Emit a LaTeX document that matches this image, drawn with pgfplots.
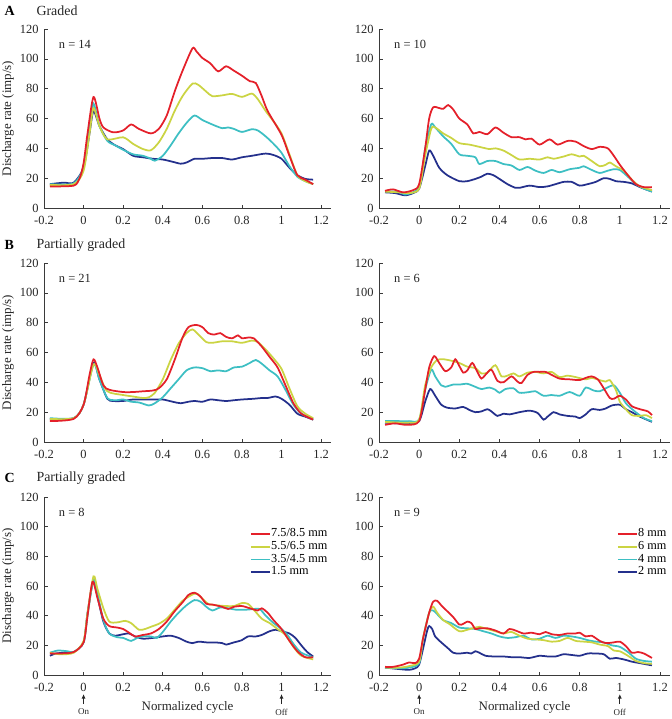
\documentclass[border=0pt]{standalone}
\usepackage{fontspec}
\setmainfont{Liberation Serif}
\usepackage{pgfplots}
\pgfplotsset{compat=1.18}
\usetikzlibrary{arrows.meta}
\definecolor{cred}{HTML}{E4202A}
\definecolor{cyel}{HTML}{CBD443}
\definecolor{ccya}{HTML}{3DBFC3}
\definecolor{cnav}{HTML}{24308C}
\definecolor{spine}{HTML}{3A3A3A}
\pgfplotsset{
  panel/.style={
    scale only axis, anchor=south west, height=179bp,
    xmin=-0.2, xmax=1.25, ymin=0, ymax=120,
    axis x line*=bottom, axis y line*=left,
    axis line style={spine, line width=0.6bp},
    every tick/.style={spine, line width=0.6bp},
    tick align=inside, major tick length=3.5bp,
    xtick={-0.2,0,0.2,0.4,0.6,0.8,1,1.2},
    xticklabels={-0.2,0,0.2,0.4,0.6,0.8,1,1.2},
    ytick={0,20,40,60,80,100,120},
    yticklabels={0,20,40,60,80,100,120},
    tick label style={font=\fontsize{12.5}{14}\selectfont, text=black!85},
    xticklabel style={yshift=-5bp},
    yticklabel style={xshift=-2bp},
    label style={font=\fontsize{13}{15}\selectfont, text=black!85},
    clip=false,
    every axis plot/.append style={line width=1.75bp, smooth, tension=0.45, no markers},
    legend style={draw=none, fill=none, font=\fontsize{12.3}{13}\selectfont,
       row sep=0bp, column sep=0bp, cells={anchor=west},
       nodes={inner sep=0.4bp, text height=8.6bp, text depth=3.3bp}},
    legend image code/.code={\draw[##1, line width=1.75bp, sharp plot] (0bp,0bp) -- (19bp,0bp);},
  },
  leftp/.style={panel, width=287bp, ylabel={Discharge rate (imp/s)},
    ylabel style={yshift=-1bp}},
  rightp/.style={panel, width=291bp},
}
\newcommand{\nlab}[1]{\node[anchor=west, font=\fontsize{12.5}{14}\selectfont, text=black!85] at (rel axis cs:0.04,0.915) {#1};}
\newcommand{\onoff}{%
  \draw[-{Latex[length=4.5bp,width=4bp]}, line width=0.9bp, black!85] ([yshift=-29bp]axis cs:0,0) -- ([yshift=-19bp]axis cs:0,0);
  \draw[-{Latex[length=4.5bp,width=4bp]}, line width=0.9bp, black!85] ([yshift=-29bp]axis cs:1,0) -- ([yshift=-19bp]axis cs:1,0);
  \node[font=\fontsize{9}{10}\selectfont, text=black!85] at ([yshift=-37bp]axis cs:0,0) {On};
  \node[font=\fontsize{9}{10}\selectfont, text=black!85] at ([yshift=-37bp]axis cs:1,0) {Off};
}
\begin{document}
\begin{tikzpicture}
\path[use as bounding box] (0,0) rectangle (672bp,-719bp);

% ---------------- A left
\begin{axis}[leftp, at={(44bp,-208bp)}]
\addplot[cnav] coordinates {(-0.17,16)(-0.1,17)(-0.05,17)(0,27)(0.03,50)(0.05,65)(0.08,55)(0.12,46)(0.16,42)(0.2,39.5)(0.25,35)(0.3,34)(0.35,33)(0.4,32.5)(0.45,31)(0.49,29.7)(0.52,30.5)(0.56,33)(0.6,33)(0.65,33.5)(0.7,33.5)(0.75,32.5)(0.8,34)(0.85,35)(0.92,36.5)(0.96,35.5)(1.0,33)(1.04,27)(1.08,22)(1.12,19.5)(1.16,19)};
\addplot[ccya] coordinates {(-0.17,16)(-0.05,16.5)(0,28)(0.03,55)(0.05,70)(0.08,55)(0.12,45)(0.16,42)(0.2,39)(0.25,36)(0.3,35)(0.34,33)(0.36,31.7)(0.4,35)(0.44,42)(0.48,50)(0.52,57)(0.56,62)(0.6,59)(0.65,56)(0.7,53.5)(0.73,54)(0.76,53)(0.8,51)(0.85,52.8)(0.88,52)(0.92,48)(0.96,43)(1.0,37)(1.04,28)(1.08,21)(1.12,18)(1.16,16)};
\addplot[cyel] coordinates {(-0.17,15.5)(-0.05,16)(0,25)(0.03,50)(0.05,67)(0.08,55)(0.12,46)(0.2,47.4)(0.25,43)(0.3,39.5)(0.34,38.7)(0.38,44)(0.42,53)(0.46,65)(0.5,75)(0.55,83.4)(0.58,82.5)(0.62,78)(0.65,75)(0.7,75.5)(0.75,76.5)(0.8,74.5)(0.85,76.7)(0.88,73)(0.92,65)(0.96,58)(1.0,50)(1.04,36)(1.08,22)(1.12,18)(1.16,16)};
\addplot[cred] coordinates {(-0.17,14.5)(-0.05,15)(-0.02,20)(0,30)(0.02,50)(0.05,74.4)(0.08,60)(0.1,54)(0.15,50.7)(0.2,52)(0.24,56)(0.28,53)(0.34,50)(0.38,53)(0.42,62)(0.46,78)(0.5,92)(0.55,107)(0.57,105)(0.6,100.6)(0.64,97)(0.68,91.6)(0.72,95)(0.76,92)(0.8,88.7)(0.84,85)(0.87,83.8)(0.9,75)(0.93,65)(1.0,49)(1.04,35)(1.08,22)(1.12,19)(1.16,16)};
\nlab{n = 14}
\end{axis}

% ---------------- A right
\begin{axis}[rightp, at={(379bp,-208bp)}]
\addplot[cnav] coordinates {(-0.17,10.5)(-0.12,10)(-0.07,8.5)(-0.03,10)(0,13)(0.03,28)(0.05,38.5)(0.07,35)(0.1,27)(0.14,22)(0.2,18)(0.24,18)(0.28,19.5)(0.31,21)(0.34,23)(0.37,22)(0.4,19.5)(0.44,16)(0.48,13.5)(0.5,13.5)(0.55,15)(0.6,14)(0.64,14.5)(0.68,16)(0.72,17.5)(0.76,17.5)(0.8,15)(0.84,16)(0.88,17.5)(0.92,20)(0.95,19.5)(0.98,18)(1.02,17.5)(1.06,16.5)(1.1,14)(1.16,11)};
\addplot[ccya] coordinates {(-0.17,11)(-0.1,11)(-0.07,9)(0,14)(0.03,40)(0.06,56)(0.08,54)(0.12,48)(0.16,43)(0.2,36)(0.24,35)(0.28,34)(0.3,29.5)(0.34,31.5)(0.38,31.5)(0.42,29.5)(0.46,28.5)(0.5,25.5)(0.54,27.5)(0.58,25)(0.62,23.5)(0.66,25.5)(0.7,24)(0.75,26)(0.8,27)(0.82,28)(0.86,25.5)(0.9,23.5)(0.94,25)(0.97,26)(1.0,25.5)(1.04,21)(1.08,16)(1.12,13)(1.16,11)};
\addplot[cyel] coordinates {(-0.17,11)(-0.1,10.5)(-0.05,10)(0,13)(0.03,35)(0.06,53)(0.08,54)(0.12,50)(0.16,47)(0.2,43.5)(0.25,42.5)(0.3,41)(0.35,39.5)(0.38,40)(0.42,38.5)(0.46,35.5)(0.5,32.5)(0.55,33)(0.6,32.5)(0.64,34)(0.67,33)(0.72,34.5)(0.76,36)(0.8,34.5)(0.82,35)(0.86,31.5)(0.9,28)(0.93,29)(0.95,30.5)(0.98,28)(1.02,25)(1.06,19)(1.1,14.5)(1.16,12)};
\addplot[cred] coordinates {(-0.17,11.5)(-0.13,12.5)(-0.08,10.5)(-0.03,12)(0,16)(0.03,40)(0.05,60)(0.07,67.5)(0.1,67)(0.12,66.5)(0.145,69)(0.17,66)(0.2,60)(0.24,56)(0.27,50)(0.3,51)(0.34,49.5)(0.38,54)(0.42,50.5)(0.46,47.5)(0.5,47.5)(0.53,46)(0.56,46.5)(0.6,42.5)(0.65,46)(0.69,42.5)(0.74,45)(0.78,44.5)(0.82,41.5)(0.86,39.5)(0.9,41)(0.94,40)(0.97,35)(1.0,29)(1.04,22)(1.08,16)(1.12,14)(1.16,14)};
\nlab{n = 10}
\end{axis}

% ---------------- B left
\begin{axis}[leftp, at={(44bp,-442bp)}]
\addplot[cnav] coordinates {(-0.17,15.5)(-0.05,16)(0,25)(0.05,53)(0.08,42)(0.12,29)(0.15,27.5)(0.2,27.5)(0.25,28.5)(0.3,28.5)(0.35,28.5)(0.4,28.5)(0.45,27)(0.49,26)(0.53,27)(0.56,27.5)(0.6,27)(0.64,28.5)(0.68,28)(0.72,27.5)(0.76,28)(0.8,28.5)(0.86,29)(0.9,29.5)(0.93,29.5)(0.97,30.5)(1.0,29)(1.04,25)(1.08,19)(1.12,17)(1.16,15)};
\addplot[ccya] coordinates {(-0.17,16)(-0.05,16)(0,25)(0.05,52)(0.08,42)(0.12,29.5)(0.16,28)(0.2,28.5)(0.24,27)(0.28,26.5)(0.33,24.5)(0.36,26)(0.4,30)(0.44,36)(0.48,42)(0.52,48)(0.56,50)(0.6,49.5)(0.64,47.5)(0.68,48)(0.72,47.5)(0.76,50)(0.8,50.5)(0.84,53)(0.87,55)(0.9,52.5)(0.94,48)(0.98,44)(1.02,35)(1.06,25)(1.1,19)(1.16,15)};
\addplot[cyel] coordinates {(-0.17,15.5)(-0.05,16)(0,25)(0.05,52)(0.08,45)(0.12,34)(0.2,31.5)(0.25,30.5)(0.3,29.5)(0.33,30)(0.36,33)(0.4,42)(0.44,55)(0.48,66)(0.52,73)(0.55,75.5)(0.58,72)(0.62,67)(0.65,66.5)(0.7,67.5)(0.75,67.5)(0.8,66.5)(0.85,68)(0.88,67)(0.92,62)(0.96,56)(1.0,49)(1.04,36)(1.08,24)(1.12,19)(1.16,16)};
\addplot[cred] coordinates {(-0.17,14)(-0.05,15.5)(0,25)(0.03,45)(0.05,55.4)(0.07,50)(0.1,38)(0.13,35)(0.2,33.5)(0.25,33.5)(0.3,34)(0.35,34.5)(0.38,36)(0.42,42)(0.46,55)(0.5,70)(0.53,77)(0.57,78.5)(0.6,77)(0.63,73)(0.66,72)(0.69,73)(0.72,70.5)(0.75,69.5)(0.78,71.5)(0.8,69.5)(0.83,70)(0.86,69.5)(0.9,64)(0.94,57)(0.98,50)(1.02,38)(1.06,26)(1.1,19)(1.16,15)};
\nlab{n = 21}
\end{axis}

% ---------------- B right
\begin{axis}[rightp, at={(379bp,-442bp)}]
\addplot[cnav] coordinates {(-0.17,13)(-0.1,12.5)(-0.05,12.5)(0,14)(0.03,27)(0.055,35.5)(0.08,31)(0.11,25)(0.14,23)(0.18,22.5)(0.22,23.5)(0.25,21.5)(0.28,20)(0.31,20.5)(0.34,22)(0.36,20.5)(0.39,17.5)(0.42,19)(0.45,18.5)(0.5,20)(0.55,21)(0.59,19.5)(0.62,15)(0.64,17)(0.67,20)(0.7,18.5)(0.74,17.5)(0.78,17)(0.8,16)(0.83,18.5)(0.86,22)(0.9,21.5)(0.93,22.5)(0.96,24.5)(1.0,25)(1.03,22)(1.06,20)(1.1,17)(1.16,13.5)};
\addplot[ccya] coordinates {(-0.17,14)(-0.1,14)(-0.05,14)(0,15)(0.03,35)(0.06,48.5)(0.08,44)(0.11,38)(0.13,37)(0.17,38.5)(0.2,38.5)(0.24,39)(0.28,37)(0.31,35.5)(0.35,36.5)(0.38,35)(0.4,33)(0.43,35.5)(0.47,36)(0.5,33)(0.55,33.5)(0.58,34)(0.62,31)(0.66,31.5)(0.7,31)(0.75,33.5)(0.8,31)(0.83,36.5)(0.87,34.5)(0.9,34)(0.93,36)(0.97,38)(1.0,33)(1.03,26)(1.07,21)(1.12,16)(1.16,14)};
\addplot[cyel] coordinates {(-0.17,13.5)(-0.1,13)(-0.05,13)(0,15)(0.03,38)(0.06,50)(0.09,55)(0.12,55.5)(0.16,54.5)(0.2,53)(0.24,50.5)(0.28,49.5)(0.31,46)(0.34,46.5)(0.38,51.5)(0.41,44)(0.44,44.5)(0.47,46)(0.5,44)(0.54,46.5)(0.58,47)(0.62,46)(0.66,47)(0.7,43.5)(0.74,44.5)(0.78,43.5)(0.83,42)(0.86,43)(0.9,41.5)(0.93,40.5)(0.95,41.5)(0.98,35)(1.0,27)(1.03,22)(1.06,18)(1.1,17.5)(1.13,18)(1.16,16)};
\addplot[cred] coordinates {(-0.17,11.5)(-0.12,12.5)(-0.06,11.5)(0,14)(0.03,35)(0.05,50)(0.075,57.6)(0.1,53)(0.13,47.5)(0.16,50)(0.18,55.5)(0.2,51)(0.22,46.5)(0.24,48)(0.265,53)(0.29,47)(0.31,42.5)(0.33,45)(0.36,48.5)(0.39,41)(0.42,40)(0.46,44)(0.49,40.5)(0.51,39.5)(0.54,45)(0.57,47)(0.6,47)(0.63,47)(0.66,45)(0.7,42.5)(0.75,42)(0.8,41.5)(0.83,43)(0.86,44)(0.89,42)(0.92,36)(0.95,29.5)(0.97,29)(1.0,31)(1.03,28.5)(1.06,24)(1.1,22)(1.14,20.5)(1.16,18)};
\nlab{n = 6}
\end{axis}

% ---------------- C left
\begin{axis}[leftp, at={(44bp,-675bp)}, height=178bp, xlabel={Normalized cycle},
  xlabel style={yshift=-3bp},
  legend style={at={(1.0,0.84)}, anchor=north east}, reverse legend]
\addplot[cnav] coordinates {(-0.17,13)(-0.14,14.5)(-0.1,15)(-0.05,15.5)(0,22)(0.02,42)(0.05,64)(0.07,53)(0.1,36)(0.13,28)(0.16,26.5)(0.2,27.5)(0.23,28)(0.26,26)(0.3,24.5)(0.35,25)(0.4,26)(0.44,26.5)(0.48,25)(0.52,22.5)(0.55,21.5)(0.58,22.5)(0.62,22)(0.66,22)(0.7,21.5)(0.72,20.5)(0.76,22)(0.8,23.5)(0.83,26)(0.87,26)(0.9,27)(0.94,29.5)(0.97,30.5)(1.0,29.5)(1.04,28)(1.07,25)(1.1,20)(1.13,15.5)(1.16,12.5)};
\addlegendentry{1.5 mm}
\addplot[ccya] coordinates {(-0.17,15)(-0.13,16.5)(-0.08,16)(-0.05,15.5)(0,22)(0.02,40)(0.05,65)(0.07,55)(0.1,37)(0.13,28)(0.17,25.5)(0.2,25)(0.24,23)(0.27,25)(0.3,26)(0.34,26)(0.37,25)(0.4,29)(0.44,36)(0.48,42)(0.52,47)(0.56,50.5)(0.59,49.5)(0.62,46)(0.65,43.5)(0.69,45.5)(0.73,45)(0.77,44)(0.82,44)(0.86,44.5)(0.89,44.5)(0.92,40)(0.96,35)(1.0,31)(1.03,27)(1.06,21)(1.1,15)(1.16,12)};
\addlegendentry{3.5/4.5 mm}
\addplot[cyel] coordinates {(-0.17,15)(-0.12,14)(-0.05,15)(0,23)(0.02,42)(0.05,66.5)(0.07,58)(0.1,45)(0.13,36)(0.17,35.5)(0.21,36.5)(0.24,35)(0.28,30.5)(0.31,31)(0.35,33)(0.38,34.5)(0.42,38)(0.46,44)(0.5,50)(0.54,53.5)(0.57,55)(0.6,51.5)(0.63,48)(0.67,47)(0.72,46.5)(0.76,46.5)(0.8,48.5)(0.83,48)(0.86,44)(0.9,38)(0.94,35)(0.98,31)(1.02,27)(1.06,19)(1.1,13)(1.16,10.5)};
\addlegendentry{5.5/6.5 mm}
\addplot[cred] coordinates {(-0.17,14.5)(-0.12,14.5)(-0.05,15.5)(0,22)(0.02,40)(0.045,62.8)(0.07,52)(0.1,38)(0.13,33)(0.17,32)(0.2,31)(0.23,28.5)(0.26,26)(0.3,27)(0.34,28)(0.38,31)(0.42,36)(0.46,43)(0.5,49)(0.53,54)(0.56,55.5)(0.59,53)(0.62,48)(0.65,47.5)(0.7,46)(0.73,44.5)(0.76,46)(0.8,46.5)(0.84,45)(0.88,43.5)(0.9,45)(0.93,42)(0.96,37)(1.0,31)(1.04,23)(1.08,16)(1.12,12)(1.16,12)};
\addlegendentry{7.5/8.5 mm}
\nlab{n = 8}
\onoff
\end{axis}

% ---------------- C right
\begin{axis}[rightp, at={(379bp,-675bp)}, height=178bp, xlabel={Normalized cycle},
  xlabel style={yshift=-3bp},
  legend style={at={(1.0,0.84)}, anchor=north east}, reverse legend]
\addplot[cnav] coordinates {(-0.17,5)(-0.1,4)(-0.05,3.5)(-0.02,4.5)(0,7)(0.02,18)(0.04,30)(0.05,33)(0.065,31)(0.08,26)(0.11,22)(0.14,18.5)(0.17,15)(0.2,14.5)(0.24,15)(0.26,14.5)(0.28,16)(0.3,15)(0.33,13)(0.37,12.5)(0.42,12.5)(0.46,12)(0.5,12)(0.55,11.5)(0.6,13)(0.64,12.5)(0.68,12.5)(0.72,14)(0.76,13.5)(0.8,13)(0.84,14.5)(0.88,14.5)(0.92,14)(0.95,11)(0.98,11.5)(1.02,10.5)(1.06,9)(1.1,8)(1.16,6.5)};
\addlegendentry{2 mm}
\addplot[ccya] coordinates {(-0.17,5)(-0.1,4.5)(-0.05,5)(0,8)(0.02,25)(0.05,42)(0.07,43.5)(0.09,41)(0.12,37)(0.16,35)(0.2,32)(0.24,31.5)(0.28,31)(0.32,29.5)(0.36,28)(0.4,26)(0.44,25)(0.48,25.5)(0.52,26.5)(0.56,24)(0.6,24.5)(0.64,26.5)(0.68,25)(0.72,26.5)(0.76,26)(0.8,25)(0.84,23.5)(0.88,22.5)(0.92,22)(0.96,20)(1.0,19)(1.04,15.5)(1.08,11)(1.12,9.5)(1.16,9)};
\addlegendentry{4 mm}
\addplot[cyel] coordinates {(-0.17,5)(-0.1,5)(-0.05,6)(0,9)(0.02,25)(0.05,42)(0.07,46)(0.09,42)(0.12,37)(0.15,34.5)(0.2,29.5)(0.24,30.5)(0.28,32)(0.3,32.5)(0.34,31)(0.38,29.5)(0.42,28)(0.46,29)(0.5,26.5)(0.54,24.5)(0.58,24)(0.62,23.5)(0.66,22.5)(0.7,23)(0.74,25)(0.78,23)(0.82,22.5)(0.86,22)(0.9,20.5)(0.94,19.5)(0.97,16.5)(1.0,16)(1.04,13)(1.08,9.5)(1.12,8)(1.16,7.5)};
\addlegendentry{6 mm}
\addplot[cred] coordinates {(-0.17,5.5)(-0.13,5.5)(-0.08,7)(-0.05,8.5)(-0.02,8)(0,11)(0.02,25)(0.05,42)(0.07,49.5)(0.09,50)(0.11,47)(0.14,43)(0.17,39)(0.2,34)(0.22,34.5)(0.24,36)(0.26,35)(0.28,31)(0.3,31.5)(0.34,31.5)(0.38,30)(0.42,28)(0.45,31)(0.48,30)(0.52,28)(0.56,28.5)(0.6,27.5)(0.63,29)(0.66,27.5)(0.7,27)(0.74,28)(0.78,28)(0.8,28.5)(0.83,26)(0.86,26.5)(0.9,23)(0.93,21.5)(0.97,22)(1.0,22.5)(1.03,19.5)(1.06,15)(1.09,15.5)(1.12,14.5)(1.16,11.5)};
\addlegendentry{8 mm}
\nlab{n = 9}
\onoff
\end{axis}

% panel labels
\node[anchor=west, font=\bfseries\fontsize{14}{16}\selectfont] at (1bp,-11bp) {A};
\node[anchor=west, font=\fontsize{14}{16}\selectfont, text=black!85] at (33bp,-11bp) {Graded};
\node[anchor=west, font=\bfseries\fontsize{14}{16}\selectfont] at (1bp,-245bp) {B};
\node[anchor=west, font=\fontsize{14}{16}\selectfont, text=black!85] at (33bp,-245bp) {Partially graded};
\node[anchor=west, font=\bfseries\fontsize{14}{16}\selectfont] at (1bp,-478bp) {C};
\node[anchor=west, font=\fontsize{14}{16}\selectfont, text=black!85] at (33bp,-478bp) {Partially graded};
\end{tikzpicture}
\end{document}
